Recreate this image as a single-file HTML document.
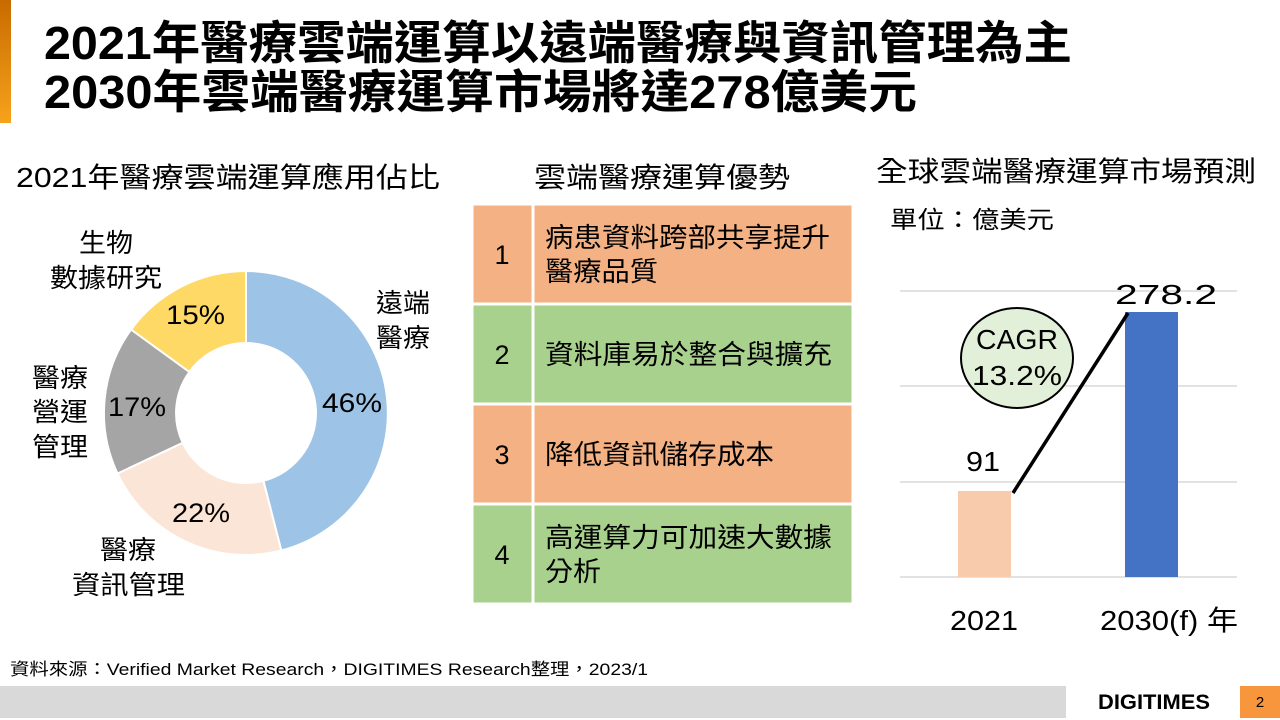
<!DOCTYPE html>
<html><head><meta charset="utf-8"><style>
html,body{margin:0;padding:0;background:#fff;}
body{width:1280px;height:720px;position:relative;overflow:hidden;}
svg{position:absolute;left:0;top:0;font-family:"Liberation Sans","Noto Sans CJK TC",sans-serif;}
</style></head><body>
<svg width="1280" height="720">
<defs><linearGradient id="g" x1="0" y1="0" x2="0" y2="1"><stop offset="0" stop-color="#c86b00"/><stop offset="1" stop-color="#f7a21b"/></linearGradient></defs>
<rect x="0" y="0" width="11" height="123" fill="url(#g)"/>
<g font-weight="bold" font-size="46" lengthAdjust="spacingAndGlyphs">
<text x="44" y="59" textLength="1028" lengthAdjust="spacingAndGlyphs">2021年醫療雲端運算以遠端醫療與資訊管理為主</text>
<text x="44" y="108" textLength="873" lengthAdjust="spacingAndGlyphs">2030年雲端醫療運算市場將達278億美元</text>
</g>
<g font-size="28">
<text x="16" y="187" textLength="424" lengthAdjust="spacingAndGlyphs">2021年醫療雲端運算應用佔比</text>
<text x="534" y="187" textLength="256" lengthAdjust="spacingAndGlyphs">雲端醫療運算優勢</text>
<text x="876" y="181" textLength="380" lengthAdjust="spacingAndGlyphs">全球雲端醫療運算市場預測</text>
</g>
<text x="890" y="228" font-size="24" textLength="164" lengthAdjust="spacingAndGlyphs">單位：億美元</text>
<path d="M246,271 A142,142 0 0 1 281.3,550.5 L263.4,480.8 A70,70 0 0 0 246,343Z" fill="#9DC3E6" stroke="#fff" stroke-width="2"/>
<path d="M281.3,550.5 A142,142 0 0 1 117.5,473.5 L182.7,442.8 A70,70 0 0 0 263.4,480.8Z" fill="#FBE5D6" stroke="#fff" stroke-width="2"/>
<path d="M117.5,473.5 A142,142 0 0 1 131.1,329.5 L189.4,371.9 A70,70 0 0 0 182.7,442.8Z" fill="#A5A5A5" stroke="#fff" stroke-width="2"/>
<path d="M131.1,329.5 A142,142 0 0 1 246,271 L246,343 A70,70 0 0 0 189.4,371.9Z" fill="#FFD966" stroke="#fff" stroke-width="2"/>
<g font-size="27">
<text x="322" y="412" textLength="60" lengthAdjust="spacingAndGlyphs">46%</text>
<text x="172" y="522" textLength="58" lengthAdjust="spacingAndGlyphs">22%</text>
<text x="108" y="416" textLength="58" lengthAdjust="spacingAndGlyphs">17%</text>
<text x="166" y="324" textLength="59" lengthAdjust="spacingAndGlyphs">15%</text>
</g>
<g font-size="26">
<text x="376" y="312" textLength="54" lengthAdjust="spacingAndGlyphs">遠端</text>
<text x="376" y="347" textLength="54" lengthAdjust="spacingAndGlyphs">醫療</text>
<text x="79" y="252" textLength="54" lengthAdjust="spacingAndGlyphs">生物</text>
<text x="50" y="287" textLength="112" lengthAdjust="spacingAndGlyphs">數據研究</text>
<text x="32" y="387" textLength="56" lengthAdjust="spacingAndGlyphs">醫療</text>
<text x="32" y="421" textLength="56" lengthAdjust="spacingAndGlyphs">營運</text>
<text x="32" y="456" textLength="56" lengthAdjust="spacingAndGlyphs">管理</text>
<text x="100" y="559" textLength="56" lengthAdjust="spacingAndGlyphs">醫療</text>
<text x="72" y="594" textLength="113" lengthAdjust="spacingAndGlyphs">資訊管理</text>
</g>
<g stroke="#fff" stroke-width="3">
<rect x="472" y="204" width="381" height="100" fill="#F4B183"/>
<rect x="472" y="304" width="381" height="100" fill="#A9D18E"/>
<rect x="472" y="404" width="381" height="100" fill="#F4B183"/>
<rect x="472" y="504" width="381" height="100" fill="#A9D18E"/>
<line x1="533" y1="204" x2="533" y2="604"/>
</g>
<g font-size="27" text-anchor="middle"><text x="502" y="264">1</text><text x="502" y="364">2</text><text x="502" y="464">3</text><text x="502" y="564">4</text></g>
<g font-size="27">
<text x="545" y="247" textLength="285" lengthAdjust="spacingAndGlyphs">病患資料跨部共享提升</text>
<text x="545" y="281" textLength="113" lengthAdjust="spacingAndGlyphs">醫療品質</text>
<text x="545" y="364" textLength="287" lengthAdjust="spacingAndGlyphs">資料庫易於整合與擴充</text>
<text x="545" y="464" textLength="229" lengthAdjust="spacingAndGlyphs">降低資訊儲存成本</text>
<text x="545" y="547" textLength="287" lengthAdjust="spacingAndGlyphs">高運算力可加速大數據</text>
<text x="545" y="581" textLength="56" lengthAdjust="spacingAndGlyphs">分析</text>
</g>
<g stroke="#d9d9d9" stroke-width="1.5">
<line x1="900" y1="291" x2="1237" y2="291"/><line x1="900" y1="386" x2="1237" y2="386"/><line x1="900" y1="482" x2="1237" y2="482"/><line x1="900" y1="577" x2="1237" y2="577"/>
</g>
<rect x="958" y="491" width="53" height="86" fill="#F8CBAD"/>
<rect x="1125" y="312" width="53" height="265" fill="#4472C4"/>
<line x1="1013" y1="493" x2="1128" y2="313" stroke="#000" stroke-width="3.5"/>
<ellipse cx="1017" cy="358" rx="56" ry="50" fill="#E2F0D9" stroke="#000" stroke-width="2"/>
<g font-size="28">
<text x="976" y="349" textLength="82" lengthAdjust="spacingAndGlyphs">CAGR</text>
<text x="972" y="385" textLength="90" lengthAdjust="spacingAndGlyphs">13.2%</text>
<text x="966" y="471" textLength="34" lengthAdjust="spacingAndGlyphs">91</text>
<text x="1115" y="304" textLength="102" lengthAdjust="spacingAndGlyphs">278.2</text>
<text x="950" y="630" textLength="68" lengthAdjust="spacingAndGlyphs">2021</text>
<text x="1100" y="630" textLength="138" lengthAdjust="spacingAndGlyphs">2030(f) 年</text>
</g>
<text x="10" y="675" font-size="17" textLength="638" lengthAdjust="spacingAndGlyphs">資料來源：Verified Market Research，DIGITIMES Research整理，2023/1</text>
<rect x="0" y="686" width="1066" height="32" fill="#d9d9d9"/>
<text x="1098" y="709" font-size="21" font-weight="bold" textLength="112" lengthAdjust="spacingAndGlyphs">DIGITIMES</text>
<rect x="1240" y="686" width="40" height="32" fill="#f7963d"/>
<text x="1260" y="707" font-size="15" text-anchor="middle">2</text>
</svg>
</body></html>
